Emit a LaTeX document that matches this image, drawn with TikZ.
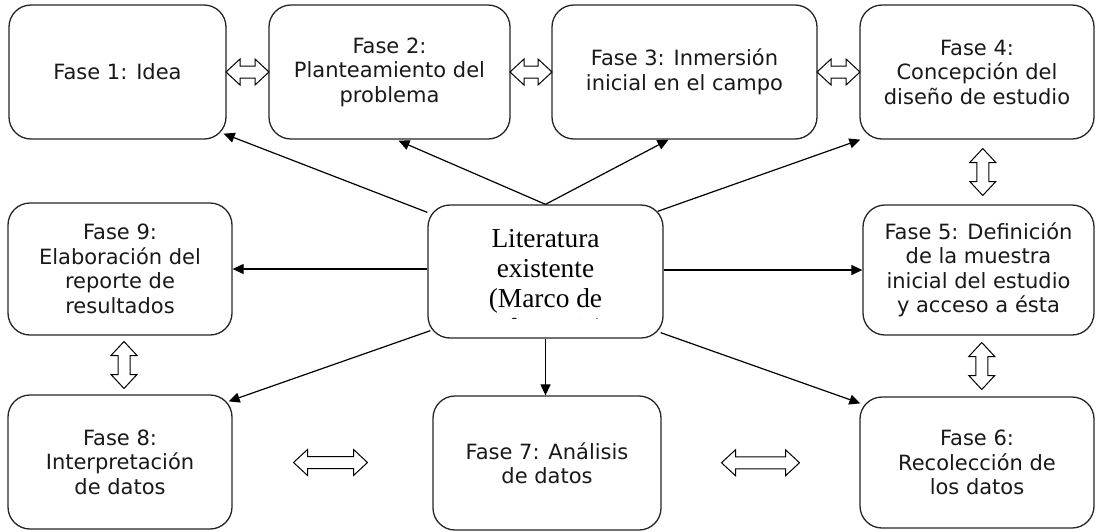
\documentclass[tikz,border=0pt]{standalone}
\usepackage{fontspec}
\setmainfont{DejaVu Sans}
\newfontfamily\litfont{Liberation Serif}
\usetikzlibrary{calc,arrows.meta}
\tikzset{
  phase/.style={draw=black!85, line width=1.3pt, rounded corners=22pt, align=center,
    text=black!90, inner sep=0pt, font=\fontsize{21}{24.5}\selectfont},
  conn/.style={draw=black, line width=1.2pt, -{Triangle[length=11pt,width=10pt]}},
  hdastyle/.style={draw=black, line width=1pt, fill=white, line join=miter},
  pics/hda/.style={code={
    \draw[hdastyle] ({-#1/2},0) -- ({-#1/2+14},-13) -- ({-#1/2+14},-6) -- ({#1/2-14},-6)
      -- ({#1/2-14},-13) -- ({#1/2},0) -- ({#1/2-14},13) -- ({#1/2-14},6)
      -- ({-#1/2+14},6) -- ({-#1/2+14},13) -- cycle;
  }}
}
\begin{document}
\begin{tikzpicture}[x=1pt,y=-1pt]
\useasboundingbox[fill=white] (0,0) rectangle (1097,531);
% top row
\node[phase, minimum width=217pt, minimum height=134pt] (b1) at (117.5,72) {Fase 1: Idea};
\node[phase, minimum width=241pt, minimum height=134pt] (b2) at (389.5,72) {Fase 2:\\Planteamiento del\\problema};
\node[phase, minimum width=265pt, minimum height=134pt] (b3) at (684.5,72) {Fase 3: Inmersión\\inicial en el campo};
\node[phase, minimum width=234pt, minimum height=134pt] (b4) at (977,72) {Fase 4:\\Concepción del\\diseño de estudio};
% middle row
\node[phase, minimum width=224pt, minimum height=132pt] (b9) at (120,269) {Fase 9:\\Elaboración del\\reporte de\\resultados};
\node[phase, minimum width=235pt, minimum height=133pt] (lit) at (545.5,271.5) {};
\begin{scope}
  \clip (430,207) rectangle (661,318.5);
  \node[inner sep=0pt, anchor=base, text=black, font=\litfont\fontsize{27.4}{30}\selectfont] (littext) at (545.5,247)
    {\begin{tabular}[t]{@{}c@{}}Literatura\\existente\\(Marco de\\referencia)\end{tabular}};
\end{scope}
\node[phase, minimum width=231pt, minimum height=130pt] (b5) at (978.5,270) {Fase 5: Definición\\de la muestra\\inicial del estudio\\y acceso a ésta};
% bottom row
\node[phase, minimum width=224pt, minimum height=134pt] (b8) at (120,462) {Fase 8:\\Interpretación\\de datos};
\node[phase, minimum width=228pt, minimum height=134pt] (b7) at (547,463) {Fase 7: Análisis\\de datos};
\node[phase, minimum width=234pt, minimum height=131pt] (b6) at (977,462.5) {Fase 6:\\Recolección de\\los datos};
% connectors from the central node
\draw[conn] ($(lit.north west)+(0,8)$) -- ($(b1.south east)+(-3,-6)$);
\draw[conn] (lit.north) -- ($(b2.south)+(9,1)$);
\draw[conn] (lit.north) -- ($(b3.south)+(-16,0)$);
\draw[conn] ($(lit.north east)+(-6,7)$) -- ($(b4.south west)+(1,0)$);
\draw[conn] (lit.west |- b9.east) -- (b9.east);
\draw[conn] (lit.east |- b5.west) -- (b5.west);
\draw[conn] ($(lit.south west)+(3,-8)$) -- ($(b8.north east)+(-4,7)$);
\draw[conn] (lit.south) -- (lit.south |- b7.north);
\draw[conn] ($(lit.south east)+(-3,-6)$) -- ($(b6.north west)+(1,7)$);
% hollow double arrows
\pic at ($(b1.east)!.5!(b2.west)$) {hda=43};
\pic at ($(b2.east)!.5!(b3.west)$) {hda=42};
\pic at ($(b3.east)!.5!(b4.west)$) {hda=43};
\pic[rotate=90] at ($(b4.south)!.5!(b5.north)+(5,0)$) {hda=47};
\pic[rotate=90] at ($(b5.south)!.5!(b6.north)+(4,0)$) {hda=47};
\pic[rotate=90] at ($(b9.south)!.5!(b8.north)+(4,0)$) {hda=47};
\pic at ($(b8.east)!.5!(b7.west)+(-2,0)$) {hda=74};
\pic at ($(b7.east)!.5!(b6.west)$) {hda=78};
\end{tikzpicture}
\end{document}
